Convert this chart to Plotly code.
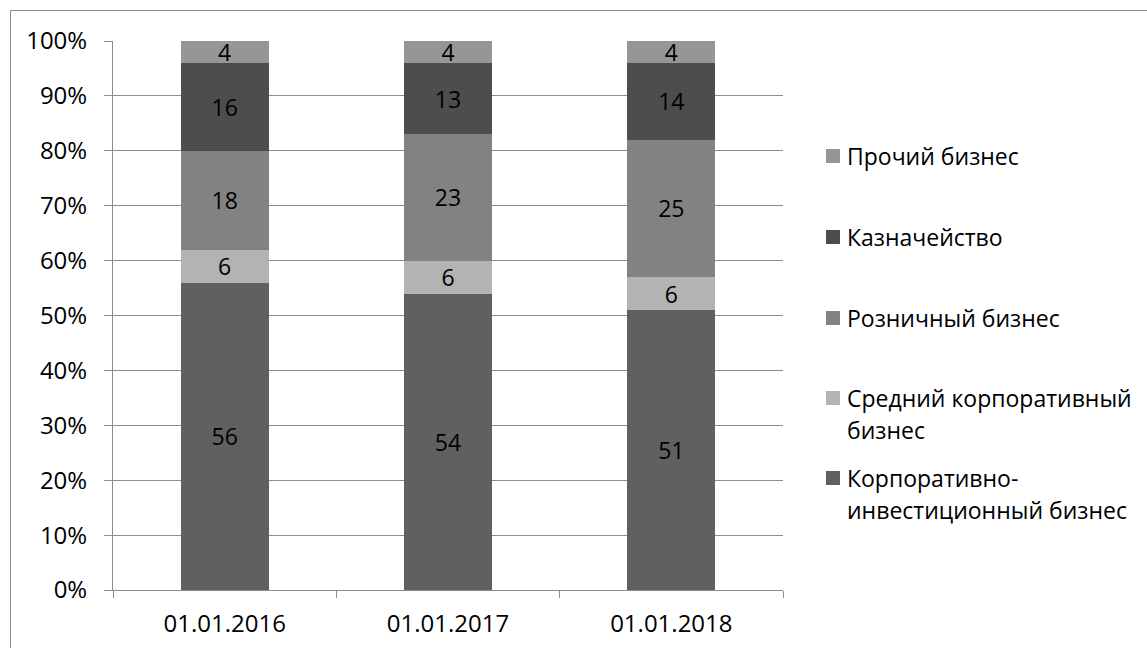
import plotly.graph_objects as go

categories = ["01.01.2016", "01.01.2017", "01.01.2018"]
series_names = [
    "Корпоративно-инвестиционный бизнес",
    "Средний корпоративный бизнес",
    "Розничный бизнес",
    "Казначейство",
    "Прочий бизнес",
]
legend_lines = [
    ["Корпоративно-", "инвестиционный бизнес"],
    ["Средний корпоративный", "бизнес"],
    ["Розничный бизнес"],
    ["Казначейство"],
    ["Прочий бизнес"],
]
korp = [56, 54, 51]
sred = [6, 6, 6]
rozn = [18, 23, 25]
kazn = [16, 13, 14]
proch = [4, 4, 4]
values = [korp, sred, rozn, kazn, proch]
colors = ["#606060", "#b3b3b3", "#828282", "#4d4d4d", "#969696"]
yticks = list(range(0, 101, 10))

W, H = 1147, 648
L, R, T, B = 113, 783, 41, 590
FONT = "Open Sans"
FS_AX = 24
FS_TXT = 23


def px_x(x):
    return (x - L) / (R - L)


def px_y(y):
    return (B - y) / (B - T)


fig = go.Figure()
for name, vals, col in zip(series_names, values, colors):
    fig.add_trace(go.Bar(
        x=categories, y=vals, name=name,
        marker=dict(color=col, line=dict(width=0)),
        text=vals, texttemplate="%{text}",
        textposition="inside", insidetextanchor="middle",
        textangle=0, constraintext="none",
        textfont=dict(family=FONT, size=FS_TXT, color="#000000"),
        showlegend=False,
    ))

# chart-area border (top and left edges visible in the reference)
BORDER = "#8c8c8c"
shapes = [
    dict(type="line", xref="paper", yref="paper",
         x0=px_x(10.5), x1=px_x(1150), y0=px_y(10.5), y1=px_y(10.5),
         line=dict(color=BORDER, width=1), layer="above"),
    dict(type="line", xref="paper", yref="paper",
         x0=px_x(10.5), x1=px_x(10.5), y0=px_y(10.5), y1=px_y(650),
         line=dict(color=BORDER, width=1), layer="above"),
]

# manual legend (Excel-like even spacing)
marker_y = [478, 398, 318, 237, 156]
LINE = 32
annotations = []
for lines, col, my in zip(legend_lines, colors, marker_y):
    shapes.append(dict(
        type="rect", xref="paper", yref="paper",
        x0=px_x(826), x1=px_x(840), y0=px_y(my + 7), y1=px_y(my - 7),
        line=dict(width=0), fillcolor=col,
    ))
    for i, ln in enumerate(lines):
        annotations.append(dict(
            xref="paper", yref="paper", x=px_x(845), y=px_y(my + i * LINE),
            xanchor="left", yanchor="middle", align="left", showarrow=False,
            text=ln, font=dict(family=FONT, size=FS_TXT, color="#000000"),
        ))

fig.update_layout(
    width=W, height=H,
    margin=dict(l=L, r=W - R, t=T, b=H - B, autoexpand=False),
    barmode="stack", bargap=0.606,
    plot_bgcolor="white", paper_bgcolor="white",
    font=dict(family=FONT, size=FS_AX, color="#000000"),
    shapes=shapes, annotations=annotations,
    showlegend=False,
)
fig.update_xaxes(
    type="category", showline=True, linecolor="#8c8c8c", linewidth=1,
    ticks="outside", tickson="boundaries", ticklen=7, tickcolor="#8c8c8c",
    ticklabelstandoff=12,
    showgrid=False, tickfont=dict(family=FONT, size=FS_AX, color="#000000"),
)
fig.update_yaxes(
    range=[0, 100], tickvals=yticks, ticktext=[f"{v}%" for v in yticks],
    showline=True, linecolor="#8c8c8c", linewidth=1,
    ticks="outside", ticklen=8, tickcolor="#8c8c8c", ticklabelstandoff=12,
    showgrid=True, gridcolor="#8c8c8c", gridwidth=1, zeroline=False,
    tickfont=dict(family=FONT, size=FS_AX, color="#000000"),
)
fig.write_html(
    "out.html",
    config={"displayModeBar": False},
    post_script="document.body.style.margin='0';document.body.style.overflow='hidden';",
)
